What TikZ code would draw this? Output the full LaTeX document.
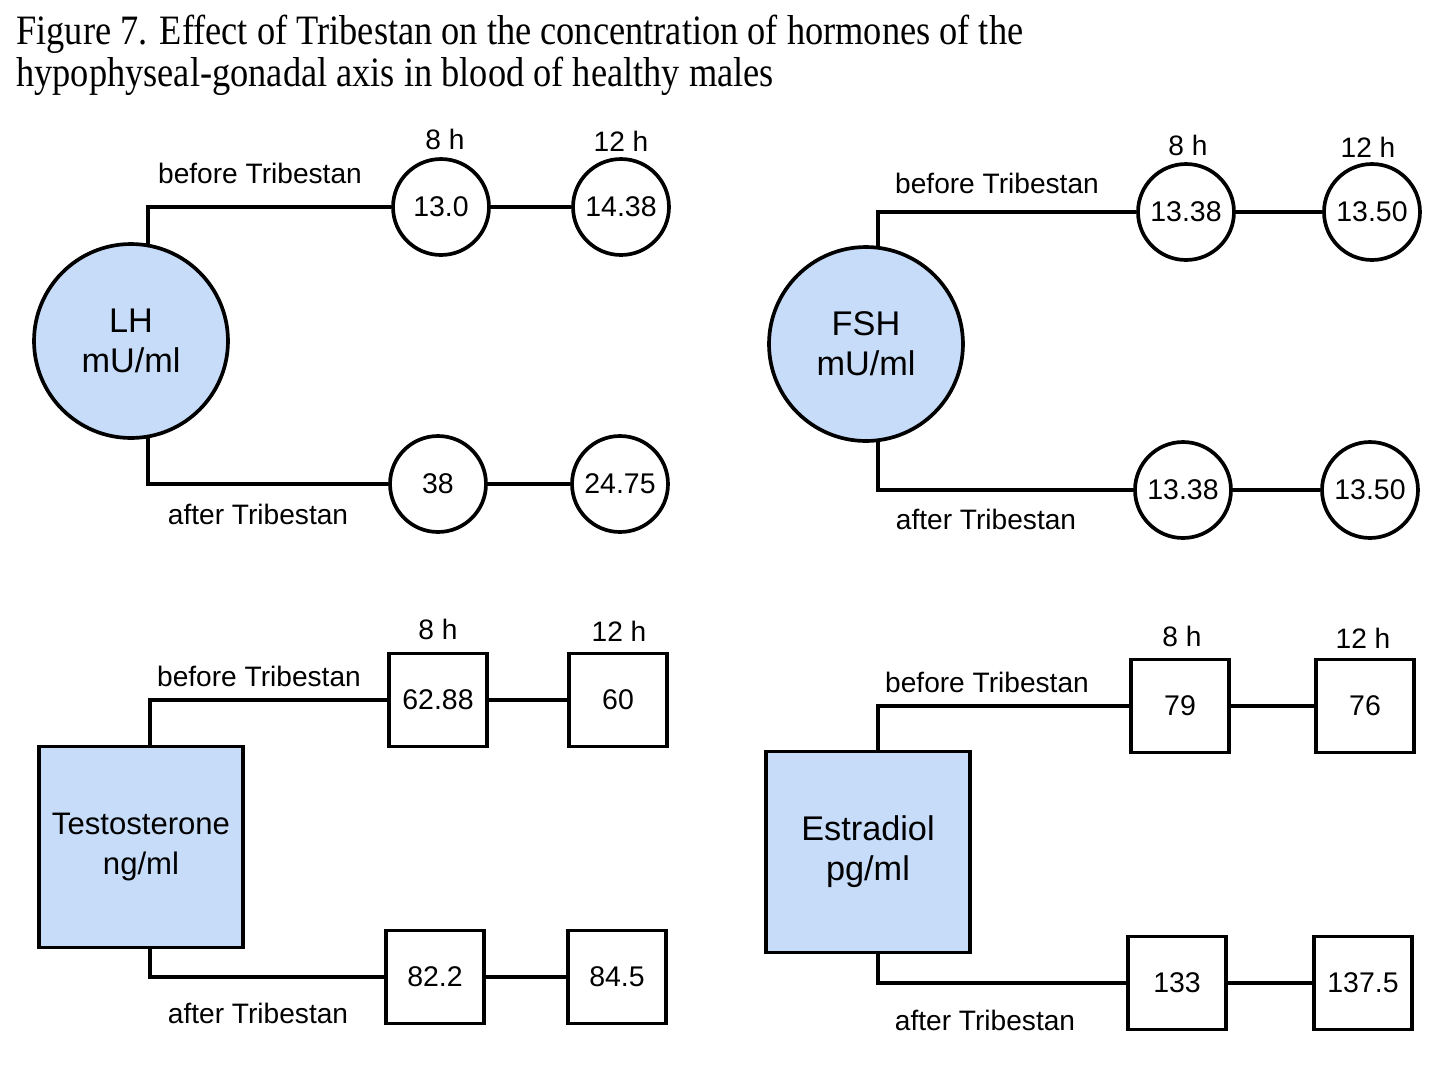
\documentclass[tikz,border=0pt]{standalone}
\usepackage{fontspec}
\setmainfont{Liberation Sans}
\newfontfamily\titlefont{Liberation Serif}
\usetikzlibrary{backgrounds}
\definecolor{hfill}{RGB}{198,220,248}
\begin{document}
\begin{tikzpicture}[x=0.02cm,y=-0.02cm,
  conn/.style={line width=2.1pt},
  bigc/.style={draw, line width=2.1pt, fill=hfill, circle, minimum size=3.88cm, inner sep=0pt, align=center, font=\fontsize{19.5}{22.7}\selectfont},
  smallc/.style={draw, line width=2.1pt, fill=white, circle, minimum size=1.92cm, inner sep=0pt, font=\fontsize{16.2}{19}\selectfont},
  sbox/.style={draw, line width=2.1pt, fill=white, rectangle, minimum width=1.96cm, minimum height=1.86cm, inner sep=0pt, font=\fontsize{16.2}{19}\selectfont},
  bigbox/.style={draw, line width=2.1pt, fill=hfill, rectangle, minimum width=4.08cm, minimum height=4.02cm, inner sep=0pt, align=center, font=\fontsize{19.5}{22.7}\selectfont},
  lab/.style={font=\fontsize{16}{19}\selectfont, inner sep=0pt},
  ttl/.style={font=\titlefont\fontsize{20.7}{23}\selectfont, inner sep=0pt, anchor=base west},
]
\useasboundingbox (0,0) rectangle (1448,1086);

% title
\node[ttl] (t1) at (16,44) {\scalebox{1}[1.15]{Figure 7. Effect of Tribestan on the concentration of hormones of the}};
\node[ttl] (t2) at (16,86) {\scalebox{1}[1.15]{hypophyseal-gonadal axis in blood of healthy males}};

% ---------- LH ----------
\node[bigc] (LH) at (131,341) {LH\\mU/ml};
\node[smallc] (lh1) at (441,207) {13.0};
\node[smallc] (lh2) at (621,207) {14.38};
\node[smallc] (lh3) at (438,484) {38};
\node[smallc] (lh4) at (620,484) {24.75};
\coordinate (lhA) at (148,207);
\coordinate (lhB) at (148,484);
\node[lab] (lhbt) at (260,173) {before Tribestan};
\node[lab] (lhat) at (258,514) {after Tribestan};
\node[lab] (lh8) at (445,139) {8 h};
\node[lab] (lh12) at (621,141) {12 h};

% ---------- FSH ----------
\node[bigc] (FSH) at (866,344) {FSH\\mU/ml};
\node[smallc] (fs1) at (1186,212) {13.38};
\node[smallc] (fs2) at (1372,212) {13.50};
\node[smallc] (fs3) at (1183,490) {13.38};
\node[smallc] (fs4) at (1370,490) {13.50};
\coordinate (fsA) at (878,212);
\coordinate (fsB) at (878,490);
\node[lab] (fsbt) at (997,183) {before Tribestan};
\node[lab] (fsat) at (986,519) {after Tribestan};
\node[lab] (fs8) at (1188,145) {8 h};
\node[lab] (fs12) at (1368,147) {12 h};

% ---------- Testosterone ----------
\node[bigbox, font=\fontsize{17.7}{22.7}\selectfont] (TE) at (141,847) {Testosterone\\ng/ml};
\node[sbox] (te1) at (438,700) {62.88};
\node[sbox] (te2) at (618,700) {60};
\node[sbox] (te3) at (435,977) {82.2};
\node[sbox] (te4) at (617,977) {84.5};
\coordinate (teA) at (150,700);
\coordinate (teB) at (150,977);
\node[lab] (tebt) at (259,676) {before Tribestan};
\node[lab] (teat) at (258,1013) {after Tribestan};
\node[lab] (te8) at (438,629) {8 h};
\node[lab] (te12) at (619,631) {12 h};

% ---------- Estradiol ----------
\node[bigbox] (ES) at (868,852) {Estradiol\\pg/ml};
\node[sbox] (es1) at (1180,706) {79};
\node[sbox] (es2) at (1365,706) {76};
\node[sbox] (es3) at (1177,983) {133};
\node[sbox] (es4) at (1363,983) {137.5};
\coordinate (esA) at (878,706);
\coordinate (esB) at (878,983);
\node[lab] (esbt) at (987,682) {before Tribestan};
\node[lab] (esat) at (985,1020) {after Tribestan};
\node[lab] (es8) at (1182,636) {8 h};
\node[lab] (es12) at (1363,638) {12 h};

\begin{scope}[on background layer]
  \draw[conn] (lhA |- LH.center) -- (lhA) -- (lh1) -- (lh2);
  \draw[conn] (lhB |- LH.center) -- (lhB) -- (lh3) -- (lh4);
  \draw[conn] (fsA |- FSH.center) -- (fsA) -- (fs1) -- (fs2);
  \draw[conn] (fsB |- FSH.center) -- (fsB) -- (fs3) -- (fs4);
  \draw[conn] (teA |- TE.center) -- (teA) -- (te1) -- (te2);
  \draw[conn] (teB |- TE.center) -- (teB) -- (te3) -- (te4);
  \draw[conn] (esA |- ES.center) -- (esA) -- (es1) -- (es2);
  \draw[conn] (esB |- ES.center) -- (esB) -- (es3) -- (es4);
\end{scope}
\end{tikzpicture}
\end{document}
